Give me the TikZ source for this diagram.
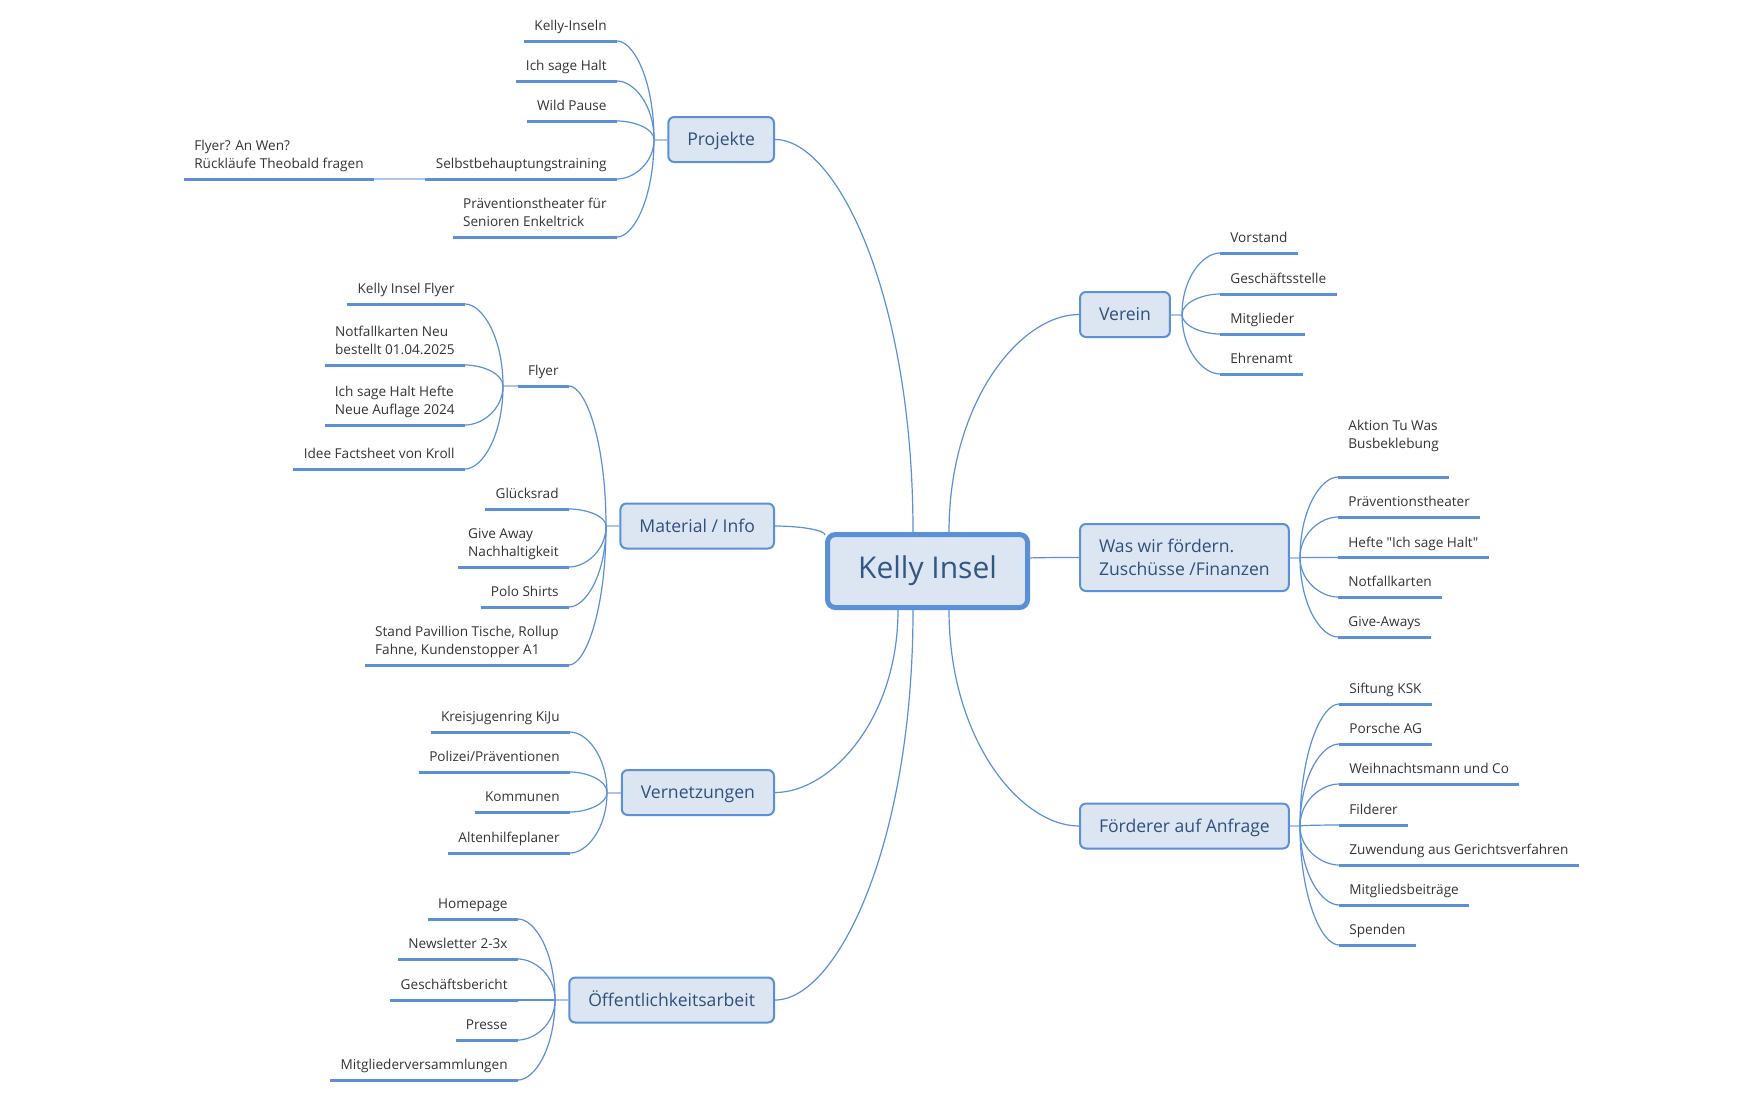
\documentclass[tikz,border=0pt]{standalone}
\usepackage{fontspec}
\setmainfont{Open Sans}
\usepackage{tikz}
\usetikzlibrary{calc,positioning}
\definecolor{xmblue}{HTML}{5B8FD6}
\definecolor{xmpale}{HTML}{A9C5EC}
\definecolor{xmfill}{HTML}{DCE6F2}
\definecolor{xmtext}{HTML}{30507A}
\definecolor{leaftext}{HTML}{333333}
\tikzset{
  rootbox/.style={draw=xmblue, fill=xmfill, line width=2.5pt, rounded corners=4pt,
    minimum width=100pt, minimum height=36.5pt, text=xmtext!90!xmblue,
    font=\fontsize{15}{18}\selectfont},
  topic/.style={draw=xmblue, fill=xmfill, line width=1pt, rounded corners=3pt,
    inner xsep=9.5pt, minimum height=22.5pt, text=xmtext, align=left,
    font=\fontsize{8.8}{11.5}\selectfont},
  topicone/.style={topic, text height=8.4pt, text depth=2.2pt},
  leafnode/.style={inner xsep=5pt, inner ysep=2.3pt, text=leaftext, align=left,
    font=\fontsize{6.8}{9}\selectfont, execute at end node=\strut},
  uline/.style={draw=xmblue, line width=1.5pt},
  link/.style={to path={.. controls ($(\tikztostart)!0.6!(\tikztostart |- \tikztotarget)$)
    and ($(\tikztotarget)!0.45!(\tikztotarget -| \tikztostart)$) .. (\tikztotarget)}},
  twig/.style={draw=xmblue, line width=0.6pt, link},
  stub/.style={draw=xmpale, line width=1pt}
}
\begin{document}
\begin{tikzpicture}[x=0.5pt, y=-0.5pt]
    \useasboundingbox (0,0) rectangle (1764,1092);

    % 1. Central topic and where the branches leave it
    \node[rootbox] (KI) at (927.5,571) {Kelly Insel};
    \coordinate (KIn1) at ([xshift=-7.25pt]KI.north);
    \coordinate (KIn2) at ([xshift=10.75pt]KI.north);
    \coordinate (KIs1) at ([xshift=-14.75pt]KI.south);
    \coordinate (KIs2) at ([xshift=-7.25pt]KI.south);
    \coordinate (KIs3) at ([xshift=10.75pt]KI.south);
    \coordinate (KIw) at ([yshift=18pt]KI.west);
    \coordinate (KIe) at ([yshift=6.5pt]KI.east);

    % 2. Main topics
    \node[topicone, anchor=east] (PR) at (775,139.5) {Projekte};
    \node[topicone, anchor=east] (MI) at (775,526) {Material / Info};
    \node[topicone, anchor=east] (VN) at (775,792.5) {Vernetzungen};
    \node[topicone, anchor=east] (OA) at (775,1000) {Öffentlichkeitsarbeit};
    \node[topicone, anchor=west] (VE) at (1079,314.5) {Verein};
    \node[topic, anchor=west, minimum height=33.5pt] (WF) at (1079,557.5) {Was wir fördern.\\Zuschüsse /Finanzen};
    \node[topicone, anchor=west] (FA) at (1079,826) {Förderer auf Anfrage};

    \draw[twig] (KIn1) to (PR.east);
    \draw[twig] (KIw) to (MI.east);
    \draw[twig] (KIs1) to (VN.east);
    \draw[twig] (KIs2) to (OA.east);
    \draw[twig] (KIn2) to (VE.west);
    \draw[twig] (KIe) to (WF.west);
    \draw[twig] (KIs3) to (FA.west);

    % 3. Junctions beside the topics
    \coordinate (PRj) at (654,139.5);
    \coordinate (MIj) at (606,526);
    \coordinate (VNj) at (607,792.5);
    \coordinate (OAj) at (555,1000);
    \coordinate (VEj) at (1182,314.5);
    \coordinate (WFj) at (1300,557.5);
    \coordinate (FAj) at (1300,826);
    \draw[stub] (PR.west) -- (PRj);
    \draw[stub] (MI.west) -- (MIj);
    \draw[stub] (VN.west) -- (VNj);
    \draw[stub] (OA.west) -- (OAj);
    \draw[stub] (VE.east) -- (VEj);
    \draw[stub] (WF.east) -- (WFj);
    \draw[stub] (FA.east) -- (FAj);

    % 4. Projekte
    \foreach \y/\txt [count=\i] in {41/Kelly-Inseln, 81/Ich sage Halt, 121/Wild Pause,
        179/Selbstbehauptungstraining, 237/{Präventionstheater für\\Senioren Enkeltrick}} {
        \node[leafnode, anchor=south east] (PR\i) at (617,\y) {\txt};
        \draw[uline] (PR\i.south west) -- (PR\i.south east);
        \draw[twig] (PRj) to (PR\i.south east);
    }
    \node[leafnode, anchor=south east] (PRx) at (374,179) {Flyer? An Wen?\\Rückläufe Theobald fragen};
    \draw[uline] (PRx.south west) -- (PRx.south east);
    \draw[draw=xmpale, line width=0.6pt] (PR4.south west) -- (PRx.south east);

    % 5. Material / Info, with the Flyer sub-branch
    \node[leafnode, anchor=south east] (MI1) at (569,386) {Flyer};
    \draw[uline] (MI1.south west) -- (MI1.south east);
    \draw[twig] (MIj) to (MI1.south east);
    \foreach \y/\txt [count=\i from 2] in {509/Glücksrad, 567/{Give Away\\Nachhaltigkeit},
        607/Polo Shirts, 665/{Stand Pavillion Tische, Rollup\\Fahne, Kundenstopper A1}} {
        \node[leafnode, anchor=south east] (MI\i) at (569,\y) {\txt};
        \draw[uline] (MI\i.south west) -- (MI\i.south east);
        \draw[twig] (MIj) to (MI\i.south east);
    }
    \coordinate (FLj) at (503,386);
    \draw[stub] (MI1.south west) -- (FLj);
    \foreach \y/\txt [count=\i] in {304/Kelly Insel Flyer, 365/{Notfallkarten Neu\\bestellt 01.04.2025},
        425/{Ich sage Halt Hefte\\Neue Auflage 2024}, 469/Idee Factsheet von Kroll} {
        \node[leafnode, anchor=south east] (FL\i) at (465,\y) {\txt};
        \draw[uline] (FL\i.south west) -- (FL\i.south east);
        \draw[twig] (FLj) to (FL\i.south east);
    }

    % 6. Vernetzungen
    \foreach \y/\txt [count=\i] in {732/Kreisjugenring KiJu, 772/{Polizei/Präventionen},
        812/Kommunen, 853/Altenhilfeplaner} {
        \node[leafnode, anchor=south east] (VN\i) at (570,\y) {\txt};
        \draw[uline] (VN\i.south west) -- (VN\i.south east);
        \draw[twig] (VNj) to (VN\i.south east);
    }

    % 7. Öffentlichkeitsarbeit
    \foreach \y/\txt [count=\i] in {919/Homepage, 959/Newsletter 2-3x, 1000/Geschäftsbericht,
        1040/Presse, 1080/Mitgliederversammlungen} {
        \node[leafnode, anchor=south east] (OA\i) at (518,\y) {\txt};
        \draw[uline] (OA\i.south west) -- (OA\i.south east);
        \draw[twig] (OAj) to (OA\i.south east);
    }

    % 8. Verein
    \foreach \y/\txt [count=\i] in {253/Vorstand, 294/Geschäftsstelle, 334/Mitglieder, 374/Ehrenamt} {
        \node[leafnode, anchor=south west] (VE\i) at (1220,\y) {\txt};
        \draw[uline] (VE\i.south west) -- (VE\i.south east);
        \draw[twig] (VEj) to (VE\i.south west);
    }

    % 9. Was wir fördern
    \foreach \y/\txt [count=\i] in {477/{Aktion Tu Was\\Busbeklebung\\}, 517/Präventionstheater,
        557.5/{Hefte \textquotedbl Ich sage Halt\textquotedbl}, 597/Notfallkarten, 637/Give-Aways} {
        \node[leafnode, anchor=south west] (WF\i) at (1338,\y) {\txt};
        \draw[uline] (WF\i.south west) -- (WF\i.south east);
        \draw[twig] (WFj) to (WF\i.south west);
    }

    % 10. Förderer auf Anfrage
    \foreach \y/\txt [count=\i] in {704/Siftung KSK, 744/Porsche AG, 784/Weihnachtsmann und Co,
        825/Filderer, 865/Zuwendung aus Gerichtsverfahren, 905/Mitgliedsbeiträge, 945/Spenden} {
        \node[leafnode, anchor=south west] (FA\i) at (1339,\y) {\txt};
        \draw[uline] (FA\i.south west) -- (FA\i.south east);
        \draw[twig] (FAj) to (FA\i.south west);
    }
\end{tikzpicture}
\end{document}
